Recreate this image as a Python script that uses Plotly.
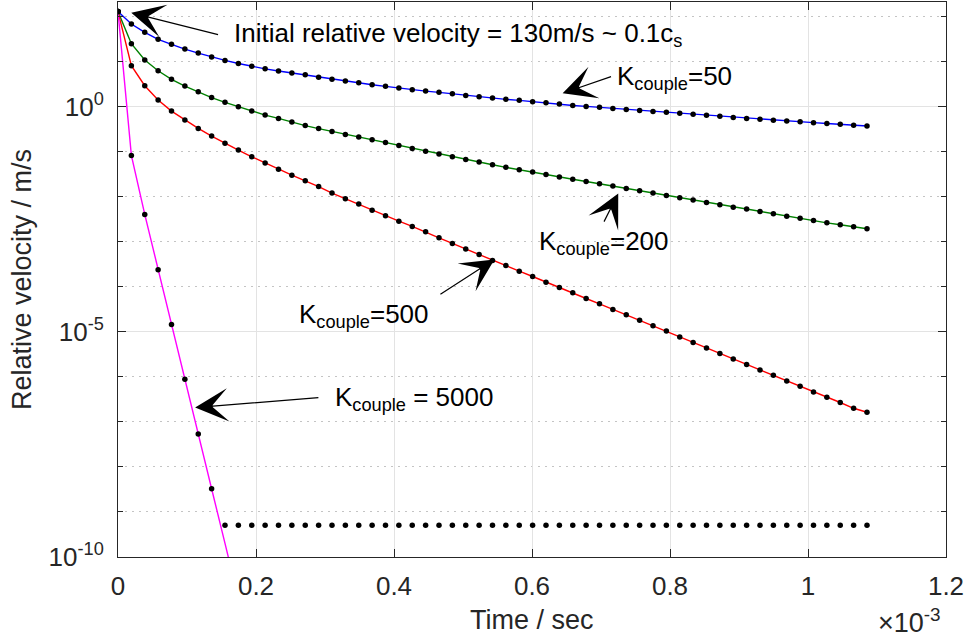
import plotly.graph_objects as go

# ---- data ----
sample_step_s = 1.9384e-5          # time between stored samples
n_samples = 57
time_s = [i * sample_step_s for i in range(n_samples)]

vel_k50 = [130, 68.8, 45.0, 31.5, 24.4, 19.1, 15.6, 12.7, 10.7, 9.12,
           7.90, 6.95, 6.21, 5.61, 5.11, 4.50, 4.06, 3.72, 3.41, 3.08,
           2.84, 2.60, 2.39, 2.23, 2.09, 1.94, 1.79, 1.67, 1.56, 1.46,
           1.39, 1.29, 1.23, 1.15, 1.07, 1.02, 0.97, 0.921, 0.875, 0.826,
           0.789, 0.751, 0.714, 0.678, 0.644, 0.612, 0.581, 0.552, 0.525, 0.503,
           0.482, 0.463, 0.444, 0.426, 0.408, 0.390, 0.373]

vel_k200 = [130, 25.1, 10.91, 6.31, 4.06, 2.884, 2.154, 1.601, 1.252, 1.0,
            0.802, 0.654, 0.552, 0.457, 0.382, 0.328, 0.284, 0.2436, 0.2121, 0.1848,
            0.1609, 0.138, 0.119, 0.1026, 0.0894, 0.0778, 0.0678, 0.0590, 0.0517, 0.0452,
            0.0398, 0.0354, 0.0313, 0.0277, 0.0246, 0.0219, 0.01945, 0.01729, 0.01537, 0.01359,
            0.01208, 0.01074, 0.00950, 0.00845, 0.00751, 0.00664, 0.00590, 0.00533, 0.00474, 0.00419,
            0.00372, 0.00336, 0.00299, 0.00264, 0.00239, 0.00215, 0.00195]

vel_k500 = [130, 8.15, 2.93, 1.41, 0.802, 0.506, 0.331, 0.223, 0.154, 0.109,
            0.0774, 0.0561, 0.0409, 0.0303, 0.0226, 0.0169, 0.0121, 0.00903, 0.00689, 0.00506,
            0.00378, 0.00288, 0.00220, 0.00167, 0.00123, 9.21e-4, 6.89e-4, 5.25e-4, 3.86e-4, 2.99e-4,
            2.23e-4, 1.70e-4, 1.27e-4, 9.70e-5, 7.36e-5, 5.52e-5, 4.19e-5, 3.15e-5, 2.39e-5, 1.82e-5,
            1.36e-5, 1.04e-5, 7.74e-6, 5.81e-6, 4.41e-6, 3.31e-6, 2.51e-6, 1.89e-6, 1.43e-6, 1.09e-6,
            8.15e-7, 6.21e-7, 4.64e-7, 3.54e-7, 2.70e-7, 2.01e-7, 1.64e-7]

# K=5000 analytic line (first samples only; later ones fall below the axis)
vel_k5000_line = [130, 0.0832, 0.00406, 2.39e-4, 1.46e-5, 8.89e-7, 5.41e-8, 3.28e-9, 2.0e-10, 1.2e-11]
# K=5000 simulated samples: decay, then a numerical floor
vel_k5000_sim = [130, 0.0832, 0.00406, 2.39e-4, 1.46e-5, 8.89e-7, 5.41e-8, 3.28e-9] + [5.1e-10] * 49

x_tick_vals = [0, 0.2e-3, 0.4e-3, 0.6e-3, 0.8e-3, 1.0e-3, 1.2e-3]
x_tick_text = ["0", "0.2", "0.4", "0.6", "0.8", "1", "1.2"]
y_tick_vals = [1e-10, 1e-5, 1e0]
y_tick_text = ["10<sup>-10</sup>", "10<sup>-5</sup>", "10<sup>0</sup>"]
y_minor_vals = [1e2, 1e1, 1e-1, 1e-2, 1e-3, 1e-4, 1e-6, 1e-7, 1e-8, 1e-9]

FONT = "Liberation Sans, Arial, Helvetica, sans-serif"
AX = "#262626"

fig = go.Figure()

line_series = [
    (time_s, vel_k50, "#0000FF"),
    (time_s, vel_k200, "#008000"),
    (time_s, vel_k500, "#FF0000"),
    (time_s[:len(vel_k5000_line)], vel_k5000_line, "#FF00FF"),
]
for xs, ys, col in line_series:
    fig.add_trace(go.Scatter(x=xs, y=ys, mode="lines",
                             line=dict(color=col, width=1.4),
                             showlegend=False, hoverinfo="skip"))

for ys in (vel_k50, vel_k200, vel_k500, vel_k5000_sim):
    fig.add_trace(go.Scatter(x=time_s, y=ys, mode="markers",
                             marker=dict(color="black", size=5.5),
                             showlegend=False, cliponaxis=True))

# ---- annotations ----
arrows = [
    # tip (t, log10 v), tail (t, log10 v)
    ((0.01923e-3, 2.089), (0.1472e-3, 1.593)),
    ((0.6444e-3, 0.298), (0.7167e-3, 0.682)),
    ((0.7250e-3, -1.924), (0.7033e-3, -2.584)),
    ((0.5456e-3, -3.391), (0.4651e-3, -4.184)),
    ((0.1118e-3, -6.680), (0.2926e-3, -6.458)),
]
annotations = []
for (tx, ty), (sx, sy) in arrows:
    annotations.append(dict(x=tx, y=ty, xref="x", yref="y",
                            ax=sx, ay=sy, axref="x", ayref="y",
                            text="", showarrow=True, arrowhead=3,
                            arrowsize=4.6, arrowwidth=1.2, arrowcolor="black",
                            standoff=0, startstandoff=0))

labels = [
    ("Initial relative velocity = 130m/s ~ 0.1c<sub>s</sub>", 0.1656e-3, 1.616),
    ("K<sub>couple</sub>=50", 0.7200e-3, 0.66),
    ("K<sub>couple</sub>=200", 0.6078e-3, -3.007),
    ("K<sub>couple</sub>=500", 0.2593e-3, -4.629),
    ("K<sub>couple</sub> = 5000", 0.3113e-3, -6.473),
]
for txt, lx, ly in labels:
    annotations.append(dict(x=lx, y=ly, xref="x", yref="y", text=txt,
                            showarrow=False, xanchor="left", yanchor="middle",
                            font=dict(family=FONT, size=26, color="black")))

annotations += [
    dict(text="Time / sec", x=0.5, y=-0.1135, xref="paper", yref="paper",
         showarrow=False, xanchor="center", yanchor="middle",
         font=dict(family=FONT, size=27, color=AX)),
    dict(text="Relative velocity / m/s", x=-0.1159, y=0.499, xref="paper", yref="paper",
         showarrow=False, xanchor="center", yanchor="middle", textangle=-90,
         font=dict(family=FONT, size=27, color=AX)),
    dict(text="\u00d710<sup>-3</sup>", x=0.9964, y=-0.1153, xref="paper", yref="paper",
         showarrow=False, xanchor="right", yanchor="middle",
         font=dict(family=FONT, size=27, color=AX)),
]

fig.update_layout(
    width=965, height=641,
    margin=dict(l=118, r=19, t=2, b=84),
    paper_bgcolor="white", plot_bgcolor="white",
    showlegend=False,
    annotations=annotations,
    font=dict(family=FONT, color=AX),
)
fig.update_xaxes(
    range=[0, 1.2e-3], tickmode="array", tickvals=x_tick_vals, ticktext=x_tick_text,
    ticks="inside", ticklen=8, tickcolor=AX, tickwidth=1,
    showline=True, linecolor=AX, linewidth=1, mirror="ticks",
    showgrid=True, gridcolor="#e3e3e3", gridwidth=1, zeroline=False,
    tickfont=dict(family=FONT, size=26, color=AX), ticklabelstandoff=6,
)
fig.update_yaxes(
    type="log", range=[-10, 2.327], tickmode="array", tickvals=y_tick_vals, ticktext=y_tick_text,
    ticks="inside", ticklen=8, tickcolor=AX, tickwidth=1,
    showline=True, linecolor=AX, linewidth=1, mirror="ticks",
    showgrid=True, gridcolor="#e3e3e3", gridwidth=1, zeroline=False,
    tickfont=dict(family=FONT, size=26, color=AX), ticklabelstandoff=8,
    minor=dict(tickmode="array", tickvals=y_minor_vals, ticks="inside", ticklen=5,
               tickcolor=AX, showgrid=True, gridcolor="#c4c4c4", griddash="2px,5px", gridwidth=1),
)

fig.write_html("out.html")
